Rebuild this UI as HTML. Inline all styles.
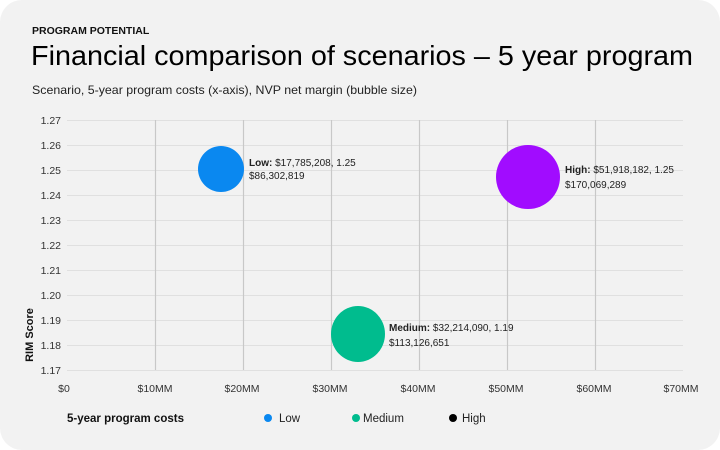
<!DOCTYPE html>
<html><head><meta charset="utf-8"><style>
html,body{margin:0;padding:0;background:#fff;}
.card{position:absolute;left:0;top:0;width:720px;height:450px;background:#f2f2f2;border-radius:22px;overflow:hidden;font-family:"Liberation Sans",sans-serif;}
</style></head><body>
<div class="card">
<svg width="720" height="450" xmlns="http://www.w3.org/2000/svg" font-family="Liberation Sans, sans-serif">
<text x="32" y="34" font-size="10.5" font-weight="bold" fill="#111">PROGRAM POTENTIAL</text>
<text x="31" y="65" font-size="28" fill="#000" textLength="662" lengthAdjust="spacingAndGlyphs">Financial comparison of scenarios – 5 year program</text>
<text x="32" y="94" font-size="12" fill="#222" textLength="385" lengthAdjust="spacingAndGlyphs">Scenario, 5-year program costs (x-axis), NVP net margin (bubble size)</text>
<g stroke="#e0e0e0" stroke-width="1">
<line x1="67" x2="683" y1="120.5" y2="120.5"/><line x1="67" x2="683" y1="145.5" y2="145.5"/><line x1="67" x2="683" y1="170.5" y2="170.5"/><line x1="67" x2="683" y1="195.5" y2="195.5"/><line x1="67" x2="683" y1="220.5" y2="220.5"/><line x1="67" x2="683" y1="245.5" y2="245.5"/><line x1="67" x2="683" y1="270.5" y2="270.5"/><line x1="67" x2="683" y1="295.5" y2="295.5"/><line x1="67" x2="683" y1="320.5" y2="320.5"/><line x1="67" x2="683" y1="345.5" y2="345.5"/><line x1="67" x2="683" y1="370.5" y2="370.5"/>
</g>
<g stroke="#c8c8c8" stroke-width="1.2">
<line x1="155.5" x2="155.5" y1="120" y2="370"/><line x1="243.5" x2="243.5" y1="120" y2="370"/><line x1="331.5" x2="331.5" y1="120" y2="370"/><line x1="419.5" x2="419.5" y1="120" y2="370"/><line x1="507.5" x2="507.5" y1="120" y2="370"/><line x1="595.5" x2="595.5" y1="120" y2="370"/>
</g>
<g font-size="10.5" fill="#333" text-anchor="end">
<text x="61" y="124">1.27</text><text x="61" y="149">1.26</text><text x="61" y="174">1.25</text><text x="61" y="199">1.24</text><text x="61" y="224">1.23</text><text x="61" y="249">1.22</text><text x="61" y="274">1.21</text><text x="61" y="299">1.20</text><text x="61" y="324">1.19</text><text x="61" y="349">1.18</text><text x="61" y="374">1.17</text>
</g>
<g font-size="10.5" fill="#333" text-anchor="middle">
<text x="64" y="392">$0</text><text x="155" y="392">$10MM</text><text x="242" y="392">$20MM</text><text x="330" y="392">$30MM</text><text x="418" y="392">$40MM</text><text x="506" y="392">$50MM</text><text x="594" y="392">$60MM</text><text x="681" y="392">$70MM</text>
</g>
<text transform="translate(33,335) rotate(-90)" font-size="11" font-weight="bold" fill="#111" text-anchor="middle">RIM Score</text>
<circle cx="221" cy="169" r="23" fill="#0a88f0"/>
<ellipse cx="358" cy="334" rx="27" ry="28" fill="#00bc8e"/>
<circle cx="528" cy="177" r="32" fill="#a10cff"/>
<g font-size="10" fill="#222">
<text x="249" y="166"><tspan font-weight="bold">Low:</tspan> $17,785,208, 1.25</text><text x="249" y="179">$86,302,819</text>
<text x="389" y="331"><tspan font-weight="bold">Medium:</tspan> $32,214,090, 1.19</text><text x="389" y="346">$113,126,651</text>
<text x="565" y="173"><tspan font-weight="bold">High:</tspan> $51,918,182, 1.25</text><text x="565" y="188">$170,069,289</text>
</g>
<text x="67" y="422" font-size="11.5" font-weight="bold" fill="#111">5-year program costs</text>
<circle cx="268" cy="418" r="4" fill="#0a88f0"/><text x="279" y="422" font-size="11.5" fill="#222">Low</text>
<circle cx="356" cy="418" r="4" fill="#00bc8e"/><text x="363" y="422" font-size="11.5" fill="#222">Medium</text>
<circle cx="453" cy="418" r="4" fill="#000"/><text x="462" y="422" font-size="11.5" fill="#222">High</text>
</svg>
</div>
</body></html>
